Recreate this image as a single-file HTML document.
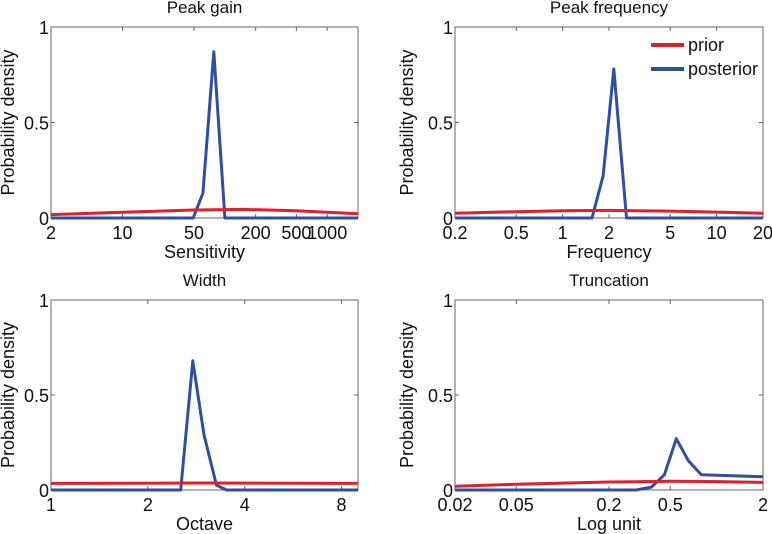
<!DOCTYPE html>
<html><head><meta charset="utf-8"><style>
html,body{margin:0;padding:0;background:#fff;}
svg{display:block;font-family:"Liberation Sans",Arial,sans-serif;}
</style></head><body>
<svg id="fig" width="772" height="534" viewBox="0 0 772 534"></svg>
<script>
// ---- Data ----
const gainTicks = [2, 10, 50, 200, 500, 1000];
const gainPriorX = [2, 10, 50, 150, 500, 2000];
const gainPriorY = [0.018, 0.03, 0.042, 0.045, 0.038, 0.022];
const gainPostX = [2, 49, 61, 78, 100, 2000];
const gainPostY = [0, 0, 0.13, 0.87, 0, 0];

const freqTicks = [0.2, 0.5, 1, 2, 5, 10, 20];
const freqPriorX = [0.2, 0.5, 1, 2, 5, 10, 20];
const freqPriorY = [0.025, 0.033, 0.038, 0.04, 0.036, 0.031, 0.025];
const freqPostX = [0.2, 1.55, 1.83, 2.15, 2.6, 20];
const freqPostY = [0, 0, 0.22, 0.78, 0, 0];

const widthTicks = [1, 2, 4, 8];
const widthPriorX = [1, 3, 9];
const widthPriorY = [0.035, 0.037, 0.035];
const widthPostX = [1, 2.53, 2.76, 2.99, 3.27, 3.52, 9];
const widthPostY = [0, 0, 0.68, 0.29, 0.025, 0, 0];

const truncTicks = [0.02, 0.05, 0.2, 0.5, 2];
const truncPriorX = [0.02, 0.05, 0.2, 0.5, 1, 2];
const truncPriorY = [0.02, 0.03, 0.042, 0.046, 0.044, 0.04];
const truncPostX = [0.02, 0.3, 0.377, 0.458, 0.547, 0.655, 0.796, 2];
const truncPostY = [0, 0, 0.015, 0.08, 0.27, 0.155, 0.08, 0.07];

const yTicks = [0, 0.5, 1];
const yTickLabels = ['0', '0.5', '1'];

const NS = 'http://www.w3.org/2000/svg';
const svg = document.getElementById('fig');
function mk(tag, attrs, parent){
  const e = document.createElementNS(NS, tag);
  for (const k in attrs) e.setAttribute(k, attrs[k]);
  (parent||svg).appendChild(e);
  return e;
}
function panel(name, cfg){
  const g = mk('g', {});
  
  
  const {x0, y0, w, h, dmin, dmax, log} = cfg;
  const L = v => log === 2 ? Math.log2(v) : Math.log10(v);
  const sx = v => x0 + (L(v) - L(dmin)) / (L(dmax) - L(dmin)) * w;
  const sy = v => y0 + h - v * h;
  const t = mk('text', {x: x0 + w/2, y: y0 - 14, 'text-anchor':'middle', 'font-size':17, fill:'#111'}, g);
  t.textContent = cfg.title;
  
  
  const box = mk('rect', {x: x0, y: y0, width: w, height: h, fill:'none', stroke:'#666', 'stroke-width':1}, g);
  
  
  cfg.ticks.forEach(v => {
    const X = sx(v);
    mk('line', {x1:X, x2:X, y1:y0+h, y2:y0+h-4, stroke:'#666'}, g);
    mk('line', {x1:X, x2:X, y1:y0, y2:y0+4, stroke:'#666'}, g);
    const tl = mk('text', {x:X, y:y0+h+21, 'text-anchor':'middle', 'font-size':18, fill:'#111'}, g);
    tl.textContent = String(v);
    
    
  });
  yTicks.forEach((v, i) => {
    const Y = sy(v);
    mk('line', {x1:x0, x2:x0+4, y1:Y, y2:Y, stroke:'#666'}, g);
    mk('line', {x1:x0+w, x2:x0+w-4, y1:Y, y2:Y, stroke:'#666'}, g);
    const yl = mk('text', {x:x0-2, y:Y+7, 'text-anchor':'end', 'font-size':18, fill:'#111'}, g);
    yl.textContent = yTickLabels[i];
    
    
  });
  const xl = mk('text', {x:x0+w/2, y:y0+h+40, 'text-anchor':'middle', 'font-size':18, fill:'#111'}, g);
  xl.textContent = cfg.xlabel;
  
  
  const cx = x0 - cfg.yOff, cy = y0 + h/2;
  const yt = mk('text', {x:cx, y:cy, 'text-anchor':'middle', 'font-size':18, fill:'#111', transform:`rotate(-90 ${cx} ${cy})`}, g);
  yt.textContent = 'Probability density';
  
  
  const path = (xs, ys) => xs.map((v,i)=>(i?'L':'M')+sx(v).toFixed(1)+','+sy(ys[i]).toFixed(1)).join('');
  const pp = mk('path', {d:path(cfg.postX, cfg.postY), fill:'none', stroke:'#2f4fa0', 'stroke-width':3, 'stroke-linejoin':'round'}, g);
  
  
  const pr = mk('path', {d:path(cfg.priorX, cfg.priorY), fill:'none', stroke:'#e0202a', 'stroke-width':3, 'stroke-linejoin':'round'}, g);
  
  
}
panel('peak-gain', {x0:51, y0:27, w:307, h:191, dmin:2, dmax:2000, log:10, yOff:37, ticks:gainTicks, title:'Peak gain', xlabel:'Sensitivity', priorX:gainPriorX, priorY:gainPriorY, postX:gainPostX, postY:gainPostY});
panel('peak-frequency', {x0:455, y0:27, w:308, h:191, dmin:0.2, dmax:20, log:10, yOff:42, ticks:freqTicks, title:'Peak frequency', xlabel:'Frequency', priorX:freqPriorX, priorY:freqPriorY, postX:freqPostX, postY:freqPostY});
panel('width', {x0:51, y0:300, w:307, h:190, dmin:1, dmax:9, log:2, yOff:37, ticks:widthTicks, title:'Width', xlabel:'Octave', priorX:widthPriorX, priorY:widthPriorY, postX:widthPostX, postY:widthPostY});
panel('truncation', {x0:455, y0:300, w:308, h:190, dmin:0.02, dmax:2, log:10, yOff:42, ticks:truncTicks, title:'Truncation', xlabel:'Log unit', priorX:truncPriorX, priorY:truncPriorY, postX:truncPostX, postY:truncPostY});

const lg = mk('g', {});


[['prior','#e0202a',45],['posterior','#2f4fa0',69]].forEach(([lab,c,y])=>{
  const ln = mk('line', {x1:651, x2:684, y1:y, y2:y, stroke:c, 'stroke-width':4}, lg);
  
  
  const tx = mk('text', {x:688, y:y+6, 'font-size':18, fill:'#111'}, lg);
  tx.textContent = lab;
  
  
});
</script>
</body></html>
